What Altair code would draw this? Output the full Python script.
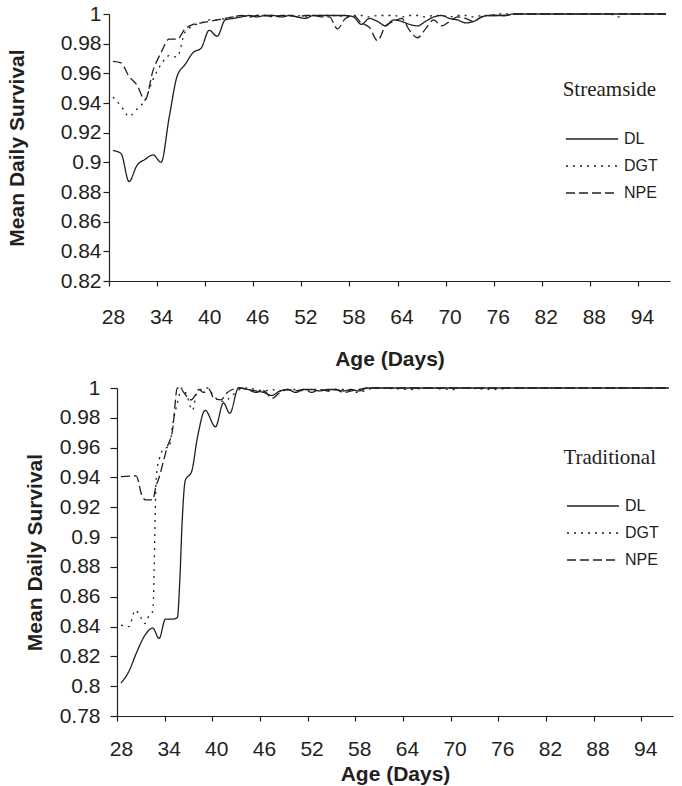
import altair as alt
import pandas as pd

INK = "#231f20"
SANS = "Liberation Sans"
SERIF = "Liberation Serif"

SERIES = ["DL", "DGT", "NPE"]
DASHES = [[1, 0], [2, 5], [9, 4]]
AGE_TICKS = [28, 34, 40, 46, 52, 58, 64, 70, 76, 82, 88, 94]
STREAM_Y_TICKS = [0.82, 0.84, 0.86, 0.88, 0.9, 0.92, 0.94, 0.96, 0.98, 1.0]
TRAD_Y_TICKS = [0.78, 0.8, 0.82, 0.84, 0.86, 0.88, 0.9, 0.92, 0.94, 0.96, 0.98, 1.0]

# ---- Streamside rearing: mean daily survival by age (days) ----
stream_dl_age = list(range(28, 79)) + [97]
stream_dl = [
    0.908, 0.906, 0.887, 0.898, 0.902, 0.905, 0.900, 0.930, 0.958, 0.966,
    0.974, 0.977, 0.989, 0.985, 0.996, 0.997, 0.998, 0.999, 0.998, 0.999,
    0.999, 0.998, 0.999, 0.998, 0.997, 0.999, 0.999, 0.999, 0.999, 0.999,
    0.998, 0.993, 0.997, 0.995, 0.992, 0.996, 0.995, 0.993, 0.992, 0.995,
    0.998, 0.999, 0.997, 0.996, 0.994, 0.995, 0.998, 0.999, 0.999, 0.999,
    1.0, 1.0,
]
stream_dgt_age = list(range(28, 78)) + [90, 91, 92, 97]
stream_dgt = [
    0.944, 0.938, 0.931, 0.936, 0.942, 0.956, 0.966, 0.972, 0.971, 0.988,
    0.992, 0.994, 0.996, 0.996, 0.997, 0.998, 0.999, 0.998, 0.999, 0.999,
    0.999, 0.998, 0.999, 0.999, 0.998, 0.999, 0.999, 0.999, 0.999, 0.998,
    0.999, 0.999, 0.998, 0.999, 0.999, 0.999, 0.998, 0.999, 0.999, 0.998,
    0.999, 0.999, 0.998, 0.999, 0.999, 0.998, 0.999, 0.999, 1.0, 1.0,
    1.0, 0.998, 1.0, 1.0,
]
stream_npe_age = list(range(28, 79)) + [97]
stream_npe = [
    0.968, 0.967, 0.958, 0.952, 0.942, 0.962, 0.974, 0.983, 0.983, 0.990,
    0.993, 0.994, 0.995, 0.996, 0.997, 0.998, 0.999, 0.998, 0.999, 0.999,
    0.998, 0.999, 0.999, 0.998, 0.999, 0.999, 0.998, 0.998, 0.990, 0.997,
    0.999, 0.994, 0.991, 0.982, 0.992, 0.995, 0.997, 0.989, 0.984, 0.990,
    0.996, 0.992, 0.995, 0.998, 0.997, 0.995, 0.998, 0.999, 0.999, 0.999,
    1.0, 1.0,
]

# ---- Traditional rearing ----
trad_dl_age = [
    28, 29, 30, 31, 32, 32.8, 33.6, 34.5, 35.1, 35.4, 35.7, 36.1, 36.9, 37.6,
    38.6, 39.9, 40.9, 41.7, 42.8, 44, 45, 46, 47, 48, 49, 50, 51, 52, 53, 54,
    55, 56, 57, 58, 59, 97,
]
trad_dl = [
    0.802, 0.810, 0.823, 0.834, 0.839, 0.832, 0.845, 0.845, 0.846, 0.870,
    0.910, 0.938, 0.944, 0.966, 0.985, 0.974, 0.990, 0.983, 1.0, 0.999,
    0.998, 0.997, 0.995, 0.998, 0.999, 0.997, 0.999, 0.999, 0.998, 0.999,
    0.999, 0.998, 0.999, 0.998, 1.0, 1.0,
]
trad_dgt_age = [
    28, 29, 29.8, 30.5, 31, 31.6, 32, 32.45, 32.8, 33.6,
    34.05, 34.5, 35.1, 35.7, 36.3, 37, 37.5, 38, 39, 39.5,
    40, 41, 42, 43, 44, 45, 46, 47, 48, 49,
    50, 51, 52, 53, 54, 55, 56, 57, 58, 59,
    60, 65, 66, 70, 71, 75, 77, 97,
]
trad_dgt = [
    0.841, 0.840, 0.851, 0.846, 0.842, 0.848, 0.850, 0.940, 0.952, 0.960,
    0.960, 0.975, 0.990, 1.0, 0.995, 0.985, 0.996, 0.999, 1.0, 0.996,
    0.993, 0.991, 0.995, 0.999, 1.0, 0.999, 0.998, 0.999, 0.998, 0.999,
    0.999, 0.998, 0.999, 0.999, 0.998, 0.999, 0.999, 0.998, 0.997, 0.999,
    1.0, 0.999, 1.0, 0.999, 1.0, 0.999, 1.0, 1.0,
]
trad_npe_age = [
    28, 29.9, 30.7, 31.1, 32.0, 32.4, 32.8, 33.4, 33.8, 34.5,
    35.1, 35.5, 35.9, 36.8, 37.4, 37.8, 38.4, 39.1, 39.7, 40.6,
    41.2, 42, 43, 44, 45, 46, 47, 48, 49, 50,
    51, 52, 53, 54, 55, 56, 57, 58, 59, 97,
]
trad_npe = [
    0.9405, 0.941, 0.927, 0.925, 0.925, 0.934, 0.940, 0.952, 0.960, 0.972,
    1.0, 1.0, 0.997, 0.992, 0.9955, 0.999, 0.997, 0.999, 0.993, 0.992,
    0.996, 0.999, 1.0, 0.999, 0.997, 0.998, 0.993, 0.997, 0.999, 0.998,
    0.999, 0.997, 0.999, 0.998, 0.999, 0.997, 0.998, 0.999, 1.0, 1.0,
]


def build_frame(entries):
    rows = []
    for name, ages, vals in entries:
        for a, v in zip(ages, vals):
            rows.append({"series": name, "age": a, "survival": v})
    return pd.DataFrame(rows)


def panel(df, y_ticks, label, *, width, height, x_start, plot_w, y_offset,
          tick_size, label_pad, title_x, x_label_pad, x_title_y,
          legend_x, legend_y, text_x, text_y):
    half = plot_w / 70 / 2
    x = alt.X(
        "age:Q",
        scale=alt.Scale(domain=[27.5, 97.5], range=[x_start, x_start + plot_w],
                        nice=False, zero=False),
        axis=alt.Axis(
            values=AGE_TICKS, tickOffset=-half, labelOffset=half,
            title="Age (Days)", titleY=x_title_y, titleBaseline="top",
            tickSize=5, labelPadding=x_label_pad,
        ),
    )
    y = alt.Y(
        "survival:Q",
        scale=alt.Scale(domain=[y_ticks[0], 1.0], nice=False, zero=False),
        axis=alt.Axis(
            values=y_ticks, labelExpr="format(datum.value, '~g')",
            title="Mean Daily Survival", titleX=title_x, titleY=height / 2,
            titleAngle=270, titleAlign="center", titleBaseline="middle",
            tickSize=tick_size, labelPadding=label_pad, offset=y_offset,
        ),
    )
    dash = alt.StrokeDash(
        "series:N",
        scale=alt.Scale(domain=SERIES, range=DASHES),
        legend=alt.Legend(
            orient="none", legendX=legend_x, legendY=legend_y, title=None,
            symbolType="stroke", symbolSize=52 * 52, symbolStrokeWidth=1.3,
            symbolStrokeColor=INK, clipHeight=20, rowPadding=7,
            labelFont=SANS, labelFontSize=16, labelColor=INK, labelOffset=5,
            padding=0,
        ),
    )
    lines = alt.Chart(df).mark_line(
        color=INK, strokeWidth=1.3, interpolate="monotone"
    ).encode(x=x, y=y, strokeDash=dash)
    name = alt.Chart(pd.DataFrame({"label": [label]})).mark_text(
        font=SERIF, fontSize=21, color=INK, align="right", baseline="middle"
    ).encode(x=alt.value(text_x), y=alt.value(text_y), text="label:N")
    return alt.layer(lines, name).properties(width=width, height=height)


stream_df = build_frame([
    ("DL", stream_dl_age, stream_dl),
    ("DGT", stream_dgt_age, stream_dgt),
    ("NPE", stream_npe_age, stream_npe),
])
trad_df = build_frame([
    ("DL", trad_dl_age, trad_dl),
    ("DGT", trad_dgt_age, trad_dgt),
    ("NPE", trad_npe_age, trad_npe),
])

top = panel(
    stream_df, STREAM_Y_TICKS, "Streamside",
    width=561, height=267, x_start=0, plot_w=561, y_offset=0,
    tick_size=6, label_pad=2, title_x=-92, x_label_pad=20, x_title_y=67,
    legend_x=456, legend_y=115, text_x=547, text_y=76,
)
bottom = panel(
    trad_df, TRAD_Y_TICKS, "Traditional",
    width=564, height=328, x_start=8, plot_w=556, y_offset=-8,
    tick_size=7, label_pad=10, title_x=-82, x_label_pad=17, x_title_y=47,
    legend_x=457, legend_y=108, text_x=547, text_y=70,
)

chart = alt.vconcat(top, bottom, spacing=8).resolve_legend(
    strokeDash="independent"
).properties(
    padding={"left": 6, "top": 3, "right": 4, "bottom": 4},
    background="white",
).configure_view(stroke=None).configure_axis(
    grid=False,
    domainColor=INK, domainWidth=1.2, tickColor=INK, tickWidth=1.2,
    labelColor=INK, labelFont=SANS, labelFontSize=21,
    titleColor=INK, titleFont=SANS, titleFontSize=21, titleFontWeight="bold",
)

chart.save("out.html", embed_options={"renderer": "svg", "actions": False})
